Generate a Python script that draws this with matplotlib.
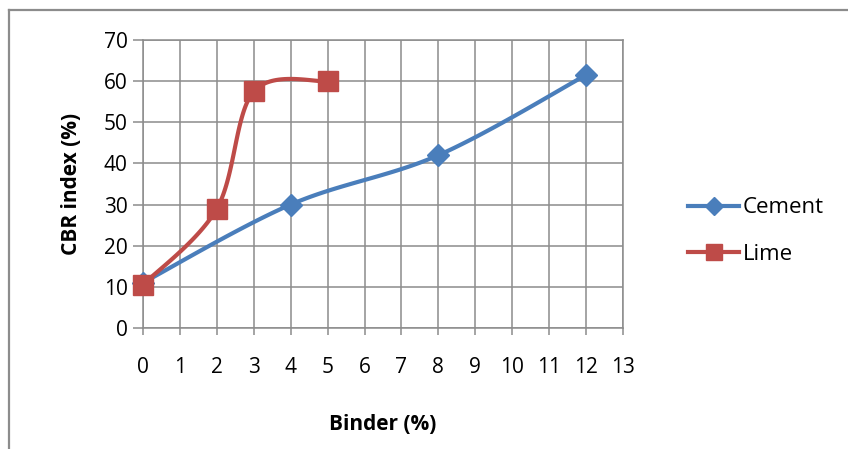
import matplotlib.pyplot as plt
import numpy as np
from matplotlib.lines import Line2D

binder_cement = [0, 4, 8, 12]
cbr_cement = [11, 30, 42, 61.5]
binder_lime = [0, 2, 3, 5]
cbr_lime = [10.5, 29, 57.5, 60]

x_ticks = list(range(0, 14))
y_ticks = list(range(0, 71, 10))

azul = '#4A7EBB'
rojo = '#BE4B48'
gris = '#8C8C8C'


def suavizar(xs, ys, n=40):
    # curva tipo Catmull-Rom (como las lineas suavizadas de Excel)
    xs = np.asarray(xs, float)
    ys = np.asarray(ys, float)
    px = np.concatenate([[xs[0]], xs, [xs[-1]]])
    py = np.concatenate([[ys[0]], ys, [ys[-1]]])
    out_x, out_y = [], []
    t = np.linspace(0, 1, n)
    for i in range(1, len(px) - 2):
        p0x, p1x, p2x, p3x = px[i - 1], px[i], px[i + 1], px[i + 2]
        p0y, p1y, p2y, p3y = py[i - 1], py[i], py[i + 1], py[i + 2]
        c1x = p1x + (p2x - p0x) / 6
        c1y = p1y + (p2y - p0y) / 6
        c2x = p2x - (p3x - p1x) / 6
        c2y = p2y - (p3y - p1y) / 6
        bx = (1 - t) ** 3 * p1x + 3 * (1 - t) ** 2 * t * c1x + 3 * (1 - t) * t ** 2 * c2x + t ** 3 * p2x
        by = (1 - t) ** 3 * p1y + 3 * (1 - t) ** 2 * t * c1y + 3 * (1 - t) * t ** 2 * c2y + t ** 3 * p2y
        out_x.extend(bx)
        out_y.extend(by)
    return out_x, out_y


plt.rcParams['font.family'] = ['Open Sans', 'DejaVu Sans']

fig = plt.figure(figsize=(8.48, 4.49), dpi=100)
ax = fig.add_axes([0.1686, 0.2695, 0.5661, 0.6414])

cx, cy = suavizar(binder_cement, cbr_cement)
lx, ly = suavizar(binder_lime, cbr_lime)

ax.plot(cx, cy, color=azul, lw=3, solid_capstyle='round', clip_on=False, zorder=3)
ax.plot(binder_cement, cbr_cement, linestyle='none', marker='D', ms=11,
        color=azul, clip_on=False, zorder=4)
ax.plot(lx, ly, color=rojo, lw=3, solid_capstyle='round', clip_on=False, zorder=3)
ax.plot(binder_lime, cbr_lime, linestyle='none', marker='s', ms=14,
        color=rojo, clip_on=False, zorder=4)

ax.set_xlim(0, 13)
ax.set_ylim(0, 70)
ax.set_xticks(x_ticks)
ax.set_yticks(y_ticks)
ax.grid(True, color=gris, lw=1.1)
ax.set_axisbelow(True)
for s in ax.spines.values():
    s.set_color(gris)
    s.set_linewidth(1.1)
ax.tick_params(axis='x', direction='out', length=5, width=1.1, color=gris,
               labelsize=15, pad=16)
ax.tick_params(axis='y', direction='out', length=7, width=1.1, color=gris,
               labelsize=15, pad=4)

ax.set_xlabel('Binder (%)', fontsize=15, fontweight='bold', labelpad=26)
ax.set_ylabel('CBR index (%)', fontsize=15, fontweight='bold', labelpad=16)

manejadores = [
    Line2D([], [], color=azul, lw=3, marker='D', ms=9),
    Line2D([], [], color=rojo, lw=3, marker='s', ms=12),
]
fig.legend(manejadores, ['Cement', 'Lime'], loc='center left',
           bbox_to_anchor=(0.788, 0.485), frameon=False, fontsize=16,
           handlelength=2.3, handletextpad=0.15, labelspacing=1.15)

# marco exterior del grafico
fig.add_artist(Line2D([0.0106, 1.0], [0.978, 0.978], color=gris, lw=1.6))
fig.add_artist(Line2D([0.0106, 0.0106], [0.0, 0.978], color=gris, lw=1.6))

fig.savefig('out.png', dpi=100)
plt.close(fig)
